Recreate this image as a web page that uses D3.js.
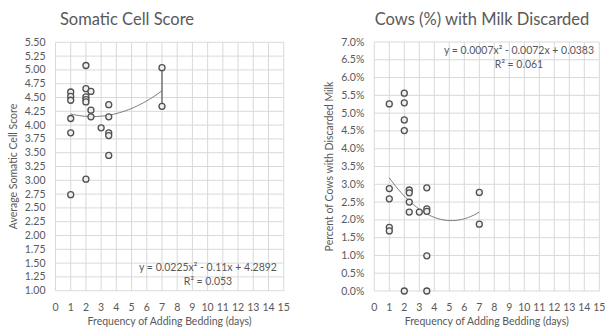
<!DOCTYPE html>
<html>
<head>
<meta charset="utf-8">
<script src="https://cdn.jsdelivr.net/npm/d3@7"></script>
<style>
  body { margin: 0; background: #fff; }
  svg text { font-family: Lato, "Open Sans", sans-serif; fill: #595959; }
</style>
</head>
<body>
<svg id="chart" width="606" height="333"></svg>
<script>
// Somatic cell score by bedding frequency
const scsX = [1, 1, 1, 1, 1, 1, 2, 2, 2, 2, 2, 2, 2.33, 2.33, 2.33, 3, 3.5, 3.5, 3.5, 3.5, 3.5, 7, 7];
const scsY = [4.60, 4.52, 4.45, 4.12, 3.86, 2.74, 5.08, 4.66, 4.51, 4.46, 4.42, 3.02, 4.61, 4.27, 4.15, 3.95, 4.37, 4.15, 3.86, 3.81, 3.45, 5.04, 4.34];

// Cows (%) with milk discarded
const milkX = [1, 1, 1, 1, 1, 2, 2, 2, 2, 2, 2.33, 2.33, 2.33, 2.33, 3, 3.5, 3.5, 3.5, 3.5, 3.5, 7, 7];
const milkY = [0.0526, 0.0288, 0.0259, 0.0179, 0.0169, 0.0556, 0.0529, 0.0481, 0.0451, 0.0, 0.0284, 0.0276, 0.0250, 0.0222, 0.0222, 0.0290, 0.0231, 0.0224, 0.0099, 0.0, 0.0277, 0.0188];

const xTicks = d3.range(0, 16);
const scsTicks = d3.range(1, 5.501, 0.25);
const milkTicks = d3.range(0, 0.0701, 0.005);

const scsFit = [0.0225, -0.11, 4.2892];   // a, b, c
const milkFit = [0.0007, -0.0072, 0.0383];

const svg = d3.select('#chart');

function drawPanel(cfg) {
    const x = d3.scaleLinear().domain([0, 15]).range([cfg.left, cfg.right]);
    const y = d3.scaleLinear().domain(cfg.yDomain).range([cfg.bottom, cfg.top]);
    const g = svg.append('g');

    // grid
    g.selectAll('.vg').data(xTicks).enter().append('line')
        .attr('x1', d => x(d)).attr('x2', d => x(d))
        .attr('y1', cfg.top).attr('y2', cfg.bottom)
        .attr('stroke', '#d9d9d9').attr('stroke-width', 1);
    g.selectAll('.hg').data(cfg.yTicks).enter().append('line')
        .attr('x1', cfg.left).attr('x2', cfg.right)
        .attr('y1', d => y(d)).attr('y2', d => y(d))
        .attr('stroke', '#d9d9d9').attr('stroke-width', 1);

    // tick labels
    g.selectAll('.xt').data(xTicks).enter().append('text')
        .attr('x', d => x(d)).attr('y', 311)
        .attr('text-anchor', 'middle').attr('font-size', 10.5)
        .text(d => d);
    g.selectAll('.yt').data(cfg.yTicks).enter().append('text')
        .attr('x', cfg.left - 10).attr('y', d => y(d) + 3.5)
        .attr('text-anchor', 'end').attr('font-size', 10.5)
        .text(cfg.yFormat);

    // titles
    g.append('text').attr('x', cfg.titleX).attr('y', 25)
        .attr('text-anchor', 'middle').attr('font-size', 16.5)
        .text(cfg.title);
    g.append('text').attr('x', (cfg.left + cfg.right) / 2).attr('y', 325)
        .attr('text-anchor', 'middle').attr('font-size', 10.5)
        .text('Frequency of Adding Bedding (days)');
    g.append('text')
        .attr('transform', `translate(${cfg.yTitleX},${(cfg.top + cfg.bottom) / 2}) rotate(-90)`)
        .attr('text-anchor', 'middle').attr('font-size', 10.5)
        .text(cfg.yTitle);

    // trendline (polynomial, order 2)
    const f = cfg.fit;
    const line = d3.line()
        .x(d => x(d))
        .y(d => y(f[0] * d * d + f[1] * d + f[2]))
        .curve(d3.curveMonotoneX);
    g.append('path').datum(d3.range(1, 7.01, 0.1))
        .attr('d', line).attr('fill', 'none')
        .attr('stroke', '#595959').attr('stroke-width', 0.8);

    if (cfg.joinLast) {
        const n = cfg.xs.length;
        g.append('line')
            .attr('x1', x(cfg.xs[n - 2])).attr('x2', x(cfg.xs[n - 1]))
            .attr('y1', y(cfg.ys[n - 2])).attr('y2', y(cfg.ys[n - 1]))
            .attr('stroke', '#595959').attr('stroke-width', 1.2);
    }

    // markers
    g.selectAll('.pt').data(cfg.xs).enter().append('circle')
        .attr('cx', d => x(d)).attr('cy', (d, i) => y(cfg.ys[i]))
        .attr('r', 3)
        .attr('fill', '#eeeeee').attr('stroke', '#505050').attr('stroke-width', 1.3);

    // equation
    g.append('text').attr('x', cfg.eqX).attr('y', cfg.eqY)
        .attr('text-anchor', 'middle').attr('font-size', 10.5).attr('fill', '#404040')
        .text(cfg.eq1);
    g.append('text').attr('x', cfg.eqX).attr('y', cfg.eqY + 14)
        .attr('text-anchor', 'middle').attr('font-size', 10.5).attr('fill', '#404040')
        .text(cfg.eq2);
}

drawPanel({
    left: 55.5, right: 283.7, top: 42.3, bottom: 290.7,
    yDomain: [1, 5.5], yTicks: scsTicks, yFormat: d3.format('.2f'),
    xs: scsX, ys: scsY, fit: scsFit, joinLast: true,
    title: 'Somatic Cell Score', titleX: 127,
    yTitle: 'Average Somatic Cell Score', yTitleX: 17,
    eq1: 'y = 0.0225x² - 0.11x + 4.2892', eq2: 'R² = 0.053',
    eqX: 208, eqY: 271
});

drawPanel({
    left: 374.3, right: 599.3, top: 42, bottom: 291,
    yDomain: [0, 0.07], yTicks: milkTicks, yFormat: d3.format('.1%'),
    xs: milkX, ys: milkY, fit: milkFit, joinLast: false,
    title: 'Cows (%) with Milk Discarded', titleX: 482,
    yTitle: 'Percent of Cows with Discarded Milk', yTitleX: 333,
    eq1: 'y = 0.0007x² - 0.0072x + 0.0383', eq2: 'R² = 0.061',
    eqX: 519, eqY: 54
});
</script>
</body>
</html>
